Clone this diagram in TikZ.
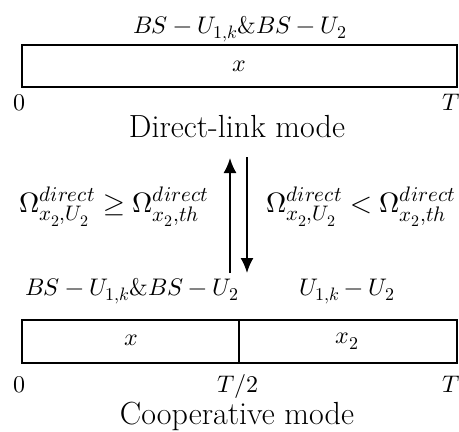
\documentclass[tikz,border=0pt]{standalone}
\usepackage{fontspec}
\usepackage{unicode-math}
\setmathfont{Latin Modern Math}
\DeclareMathSizes{24}{24}{18}{14}
\DeclareMathSizes{28}{28}{21}{16}
\usetikzlibrary{arrows.meta}
\begin{document}
\begin{tikzpicture}[x=1pt,y=-1pt,
  bar/.style={draw, line width=2pt, inner sep=0pt, outer sep=0pt},
  mlbl/.style={font=\fontsize{24}{28}\selectfont, inner sep=0pt, anchor=base},
  clbl/.style={font=\fontsize{28}{32}\selectfont, inner sep=0pt, anchor=base},
  tlbl/.style={font=\fontsize{32}{36}\selectfont, inner sep=0pt, anchor=base},
  arr/.style={line width=1.8pt, -{Latex[length=15pt,width=13pt]}}]
\useasboundingbox (0,0) rectangle (459,432);
% top
\node[mlbl] (toplbl) at (240,33) {$BS-U_{1,k}\&BS-U_2$};
\node[bar, minimum width=435pt, minimum height=42pt] (topbox) at (239.5,66) {};
\node[mlbl, anchor=center] (topx) at (239,66) {$x$};
\node[mlbl] (top0) at (19,110) {$0$};
\node[mlbl] (topT) at (451,110) {$T$};
\node[tlbl] (direct) at (237,137) {Direct-link mode};
% arrows
\coordinate (ua) at (230,273);
\coordinate (ub) at (230,158);
\coordinate (da) at (247,157);
\coordinate (db) at (247,273);
\draw[arr] (ua) -- (ub);
\draw[arr] (da) -- (db);
\node[clbl] (condl) at (114,212) {$\Omega^{direct}_{x_2,U_2}\geq\Omega^{direct}_{x_2,th}$};
\node[clbl] (condr) at (361,212) {$\Omega^{direct}_{x_2,U_2}<\Omega^{direct}_{x_2,th}$};
% bottom
\node[mlbl] (botlbl1) at (132,295) {$BS-U_{1,k}\&BS-U_2$};
\node[mlbl] (botlbl2) at (347,295) {$U_{1,k}-U_2$};
\node[bar, minimum width=217pt, minimum height=43pt] (botl) at (130.5,341.5) {};
\node[bar, minimum width=218pt, minimum height=43pt] (botr) at (348,341.5) {};
\node[mlbl, anchor=center] (botx) at (131,340) {$x$};
\node[mlbl, anchor=center] (botx2) at (347,341) {$x_2$};
\node[mlbl] (bot0) at (19,392) {$0$};
\node[mlbl] (bothalf) at (238,392) {$T/2$};
\node[mlbl] (botT) at (451,392) {$T$};
\node[tlbl] (coop) at (237,424) {Cooperative mode};
\end{tikzpicture}
\end{document}
